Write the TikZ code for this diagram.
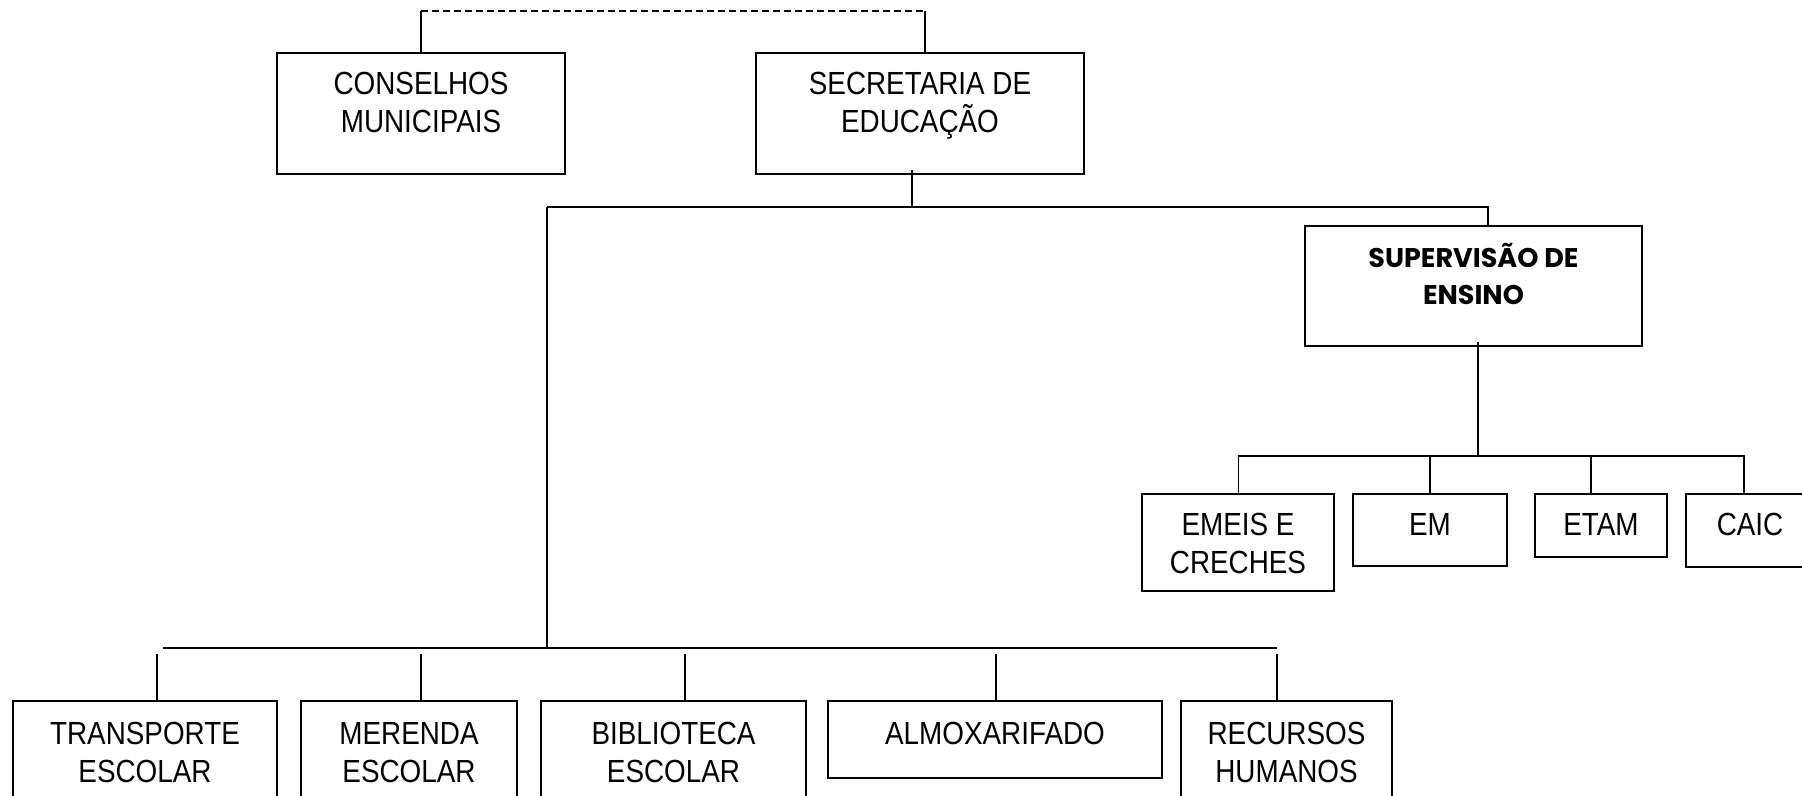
\documentclass[tikz,border=0pt]{standalone}
\usepackage{fontspec}
\setmainfont{Liberation Sans}[FakeStretch=0.87]
\newfontfamily\supfont{Poppins}
\tikzset{
  caixa/.style={draw, line width=1pt, inner sep=0pt}, % box border
  rotulo/.style={font=\fontsize{16}{19}\selectfont, align=center,
                 inner sep=0pt, anchor=north},
  ligacao/.style={line width=0.75pt},
  barra/.style={line width=1pt},
}
\begin{document}
\begin{tikzpicture}[x=0.5pt,y=-0.5pt]
\path[use as bounding box, clip] (0,0) rectangle (1802,796);
\def\desl{-10pt} %text offset below the top of a box

% top row
\node[caixa, minimum width=144pt, minimum height=60.5pt,
      label={[rotulo, yshift=\desl]north:CONSELHOS\\MUNICIPAIS}]
(cons) at (421,113.5) {};
\node[caixa, minimum width=164pt, minimum height=60.5pt,
      label={[rotulo, yshift=\desl]north:SECRETARIA DE\\EDUCAÇÃO}]
(sec) at (920,113.5) {};

% supervisao and schools
\node[caixa, minimum width=168.5pt, minimum height=60pt,
      label={[rotulo, yshift=-9pt, font=\supfont\bfseries\fontsize{13.5}{18.5}\selectfont]north:SUPERVISÃO DE\\ENSINO}]
(sup) at (1473.5,286) {};
\node[caixa, minimum width=96pt, minimum height=48.5pt,
      label={[rotulo, yshift=-10pt]north:EMEIS E\\CRECHES}]
(emeis) at (1238,542.5) {};
\node[caixa, minimum width=77pt, minimum height=36pt,
      label={[rotulo, yshift=-10pt]north:EM}]
(em) at (1430,530) {};
\node[caixa, minimum width=66pt, minimum height=31.5pt,
      label={[rotulo, yshift=-10pt]north:ETAM}]
(etam) at (1601,525.5) {};
\node[caixa, minimum width=72pt, minimum height=36.5pt,
      label={[rotulo, yshift=-10pt, xshift=-4pt]north:CAIC}]
(caic) at (1758,530.5) {};

% bottom row
\node[caixa, minimum width=132pt, minimum height=48.5pt,
      label={[rotulo, yshift=-11pt]north:TRANSPORTE\\ESCOLAR}]
(transp) at (145,749.5) {};
\node[caixa, minimum width=108pt, minimum height=48.5pt,
      label={[rotulo, yshift=-11pt]north:MERENDA\\ESCOLAR}]
(mer) at (409,749.5) {};
\node[caixa, minimum width=132.5pt, minimum height=48.5pt,
      label={[rotulo, yshift=-11pt]north:BIBLIOTECA\\ESCOLAR}]
(bib) at (673.5,749.5) {};
\node[caixa, minimum width=167pt, minimum height=38.5pt,
      label={[rotulo, yshift=-11pt]north:ALMOXARIFADO}]
(almox) at (995,739.5) {};
\node[caixa, minimum width=105.5pt, minimum height=48.5pt,
      label={[rotulo, yshift=-11pt]north:RECURSOS\\HUMANOS}]
(rec) at (1286.5,749.5) {};

% dashed link between the two top boxes
\draw[ligacao] (cons.north) -- ++(0,-41) coordinate (dc);
\draw[ligacao] ([xshift=2.5pt]sec.north) -- ++(0,-41) coordinate (ds);
\draw[ligacao, dash pattern=on 3.5pt off 2pt] (dc) -- (ds);

% secretaria down to the buses
\coordinate (b1) at (547,207);
\coordinate (b2) at (547,648);
\coordinate (be) at ([xshift=9pt]b2 -| transp.north);
\coordinate (bd) at ([xshift=-4.75pt]b2 -| rec.north);
\draw[ligacao] ([xshift=-4pt,yshift=2.5pt]sec.south) -- ([xshift=-4pt]sec.south |- b1);
\draw[ligacao] (b1) -| ([xshift=7.25pt]sup.north);
\draw[ligacao] (b1) -- (b2);
\draw[barra] (be) -- (bd);
\foreach \n/\dx in {transp/6pt, mer/6pt, bib/5.75pt, almox/0.5pt, rec/-4.75pt}
  \draw[ligacao] ([xshift=\dx]\n.north) -- ++(0,-46);

% supervisao down to the schools
\coordinate (b3) at (1478,456);
\draw[ligacao] ([xshift=2.25pt,yshift=2.5pt]sup.south) -- (b3);
\draw[ligacao] ([xshift=0.25pt]emeis.north) |- (b3) -| ([xshift=-7pt]caic.north);
\draw[ligacao] (em.north) -- (em.north |- b3);
\draw[ligacao] ([xshift=-5pt]etam.north) -- ([xshift=-5pt]etam.north |- b3);
\end{tikzpicture}
\end{document}
